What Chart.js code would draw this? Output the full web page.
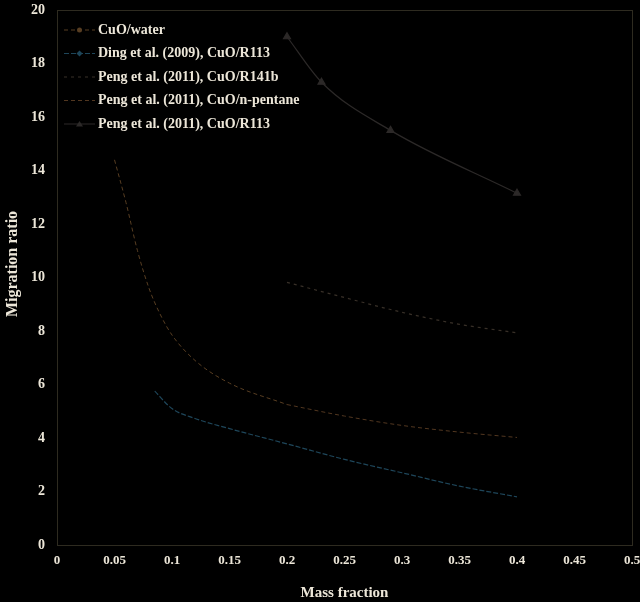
<!DOCTYPE html>
<html>
<head>
<meta charset="utf-8">
<script src="https://cdn.jsdelivr.net/npm/chart.js@4.4.0/dist/chart.umd.min.js"></script>
<style>
  html, body { margin: 0; padding: 0; background: #000; }
  #wrap { width: 640px; height: 602px; }
</style>
</head>
<body>
<div id="wrap"><canvas id="myChart" width="640" height="602"></canvas></div>
<script>
// values
const seriesNames = ['CuO/water', 'Ding et al. (2009), CuO/R113', 'Peng et al. (2011), CuO/R141b',
  'Peng et al. (2011), CuO/n-pentane', 'Peng et al. (2011), CuO/R113'];

const waterX = [0.05, 0.06, 0.07, 0.08, 0.09, 0.1, 0.12, 0.15, 0.2];
const waterY = [14.4, 12.8, 11.0, 9.6, 8.6, 7.85, 6.9, 6.05, 5.25];

const dingX = [0.085, 0.1, 0.12, 0.15, 0.2, 0.25, 0.3, 0.35, 0.4];
const dingY = [5.75, 5.1, 4.73, 4.35, 3.78, 3.2, 2.7, 2.2, 1.8];

const r141bX = [0.2, 0.25, 0.3, 0.35, 0.4];
const r141bY = [9.82, 9.25, 8.7, 8.25, 7.93];

const pentaneX = [0.2, 0.25, 0.3, 0.35, 0.4];
const pentaneY = [5.25, 4.82, 4.47, 4.22, 4.02];

const r113X = [0.2, 0.23, 0.29, 0.4];
const r113Y = [19.0, 17.3, 15.5, 13.15];

const yTitle = 'Migration ratio';
const xTitle = 'Mass fraction';

const toPts = (xs, ys) => xs.map((x, i) => ({ x: x, y: ys[i] }));

const serif = '"Liberation Serif", "DejaVu Serif", serif';
const textCol = '#ece6d8';

// black page behind everything
const bgPlugin = {
  id: 'bg',
  beforeDraw(chart) {
    const c = chart.ctx;
    c.save();
    c.fillStyle = '#000';
    c.fillRect(0, 0, chart.width, chart.height);
    c.restore();
  }
};

// thin frame round the plot area
const framePlugin = {
  id: 'frame',
  beforeDatasetsDraw(chart) {
    const a = chart.chartArea;
    const c = chart.ctx;
    c.save();
    c.strokeStyle = '#2e2b20';
    c.lineWidth = 1;
    c.strokeRect(a.left + 0.5, a.top + 0.5, a.right - a.left, a.bottom - a.top);
    c.restore();
  }
};

// y title drawn by hand so it can sit a bit above centre like the original
const yTitlePlugin = {
  id: 'yTitle',
  afterDraw(chart) {
    const c = chart.ctx;
    c.save();
    c.translate(13, 264);
    c.rotate(-Math.PI / 2);
    c.fillStyle = textCol;
    c.font = 'bold 16px ' + serif;
    c.textAlign = 'center';
    c.textBaseline = 'middle';
    c.fillText(yTitle, 0, 0);
    c.restore();
  }
};

// legend drawn inside the plot, top left
const legendPlugin = {
  id: 'innerLegend',
  afterDraw(chart) {
    const c = chart.ctx;
    c.save();
    chart.data.datasets.forEach((ds, i) => {
      const y = 30 + i * 23.5;
      c.strokeStyle = ds.borderColor;
      c.lineWidth = 1;
      c.setLineDash(ds.borderDash || []);
      c.beginPath();
      c.moveTo(64, y);
      c.lineTo(95, y);
      c.stroke();
      c.setLineDash([]);
      c.fillStyle = ds.borderColor;
      c.beginPath();
      if (ds.legendMark === 'triangle') {
        c.moveTo(79.5, y - 3);
        c.lineTo(83, y + 2.5);
        c.lineTo(76, y + 2.5);
      } else if (ds.legendMark === 'rectRot') {
        c.moveTo(79.5, y - 3);
        c.lineTo(82.5, y);
        c.lineTo(79.5, y + 3);
        c.lineTo(76.5, y);
      } else if (ds.legendMark === 'circle') {
        c.arc(79.5, y, 2.5, 0, Math.PI * 2);
      }
      c.fill();
      c.fillStyle = textCol;
      c.font = 'bold 14px ' + serif;
      c.textBaseline = 'middle';
      c.fillText(ds.label, 98, y);
    });
    c.restore();
  }
};

const ctx = document.getElementById('myChart').getContext('2d');
const myChart = new Chart(ctx, {
  type: 'line',
  data: {
    datasets: [{
      label: seriesNames[0],
      data: toPts(waterX, waterY),
      borderColor: 'rgb(88, 62, 34)',
      borderDash: [4, 3],
      borderWidth: 1,
      pointRadius: 0,
      cubicInterpolationMode: 'monotone',
      legendMark: 'circle'
    }, {
      label: seriesNames[1],
      data: toPts(dingX, dingY),
      borderColor: 'rgb(30, 70, 90)',
      borderDash: [5, 2],
      borderWidth: 1.2,
      pointRadius: 0,
      cubicInterpolationMode: 'monotone',
      legendMark: 'rectRot'
    }, {
      label: seriesNames[2],
      data: toPts(r141bX, r141bY),
      borderColor: 'rgb(56, 48, 40)',
      borderDash: [3, 4],
      borderWidth: 1.2,
      pointRadius: 0,
      cubicInterpolationMode: 'monotone',
      legendMark: 'none'
    }, {
      label: seriesNames[3],
      data: toPts(pentaneX, pentaneY),
      borderColor: 'rgb(82, 55, 32)',
      borderDash: [4, 3],
      borderWidth: 1,
      pointRadius: 0,
      cubicInterpolationMode: 'monotone',
      legendMark: 'none'
    }, {
      label: seriesNames[4],
      data: toPts(r113X, r113Y),
      borderColor: 'rgb(44, 41, 40)',
      backgroundColor: 'rgb(44, 41, 40)',
      borderWidth: 1.2,
      pointStyle: 'triangle',
      pointRadius: 4,
      cubicInterpolationMode: 'monotone',
      legendMark: 'triangle'
    }]
  },
  options: {
    responsive: false,
    animation: false,
    layout: { padding: { top: 10, right: 8, left: 0, bottom: 0 } },
    plugins: {
      legend: { display: false },
      tooltip: { enabled: false }
    },
    scales: {
      x: {
        type: 'linear',
        min: 0,
        max: 0.5,
        grid: { display: false, drawTicks: false },
        border: { display: false },
        ticks: {
          stepSize: 0.05,
          color: textCol,
          padding: 8,
          maxRotation: 0,
          font: { family: serif, size: 13, weight: 'bold' },
          callback: v => String(+v.toFixed(2))
        },
        title: {
          display: true,
          text: xTitle,
          color: textCol,
          padding: { top: 4, bottom: 0 },
          font: { family: serif, size: 15, weight: 'bold' }
        },
        afterFit(scale) {
          scale.height = 57;
          scale.paddingLeft = 0;
          scale.paddingRight = 0;
        }
      },
      y: {
        min: 0,
        max: 20,
        grid: { display: false, drawTicks: false },
        border: { display: false },
        ticks: {
          stepSize: 2,
          color: textCol,
          padding: 12,
          font: { family: serif, size: 14, weight: 'bold' }
        },
        afterFit(scale) {
          scale.width = 57;
          scale.paddingTop = 0;
          scale.paddingBottom = 0;
        }
      }
    }
  },
  plugins: [bgPlugin, framePlugin, yTitlePlugin, legendPlugin]
});
</script>
</body>
</html>
